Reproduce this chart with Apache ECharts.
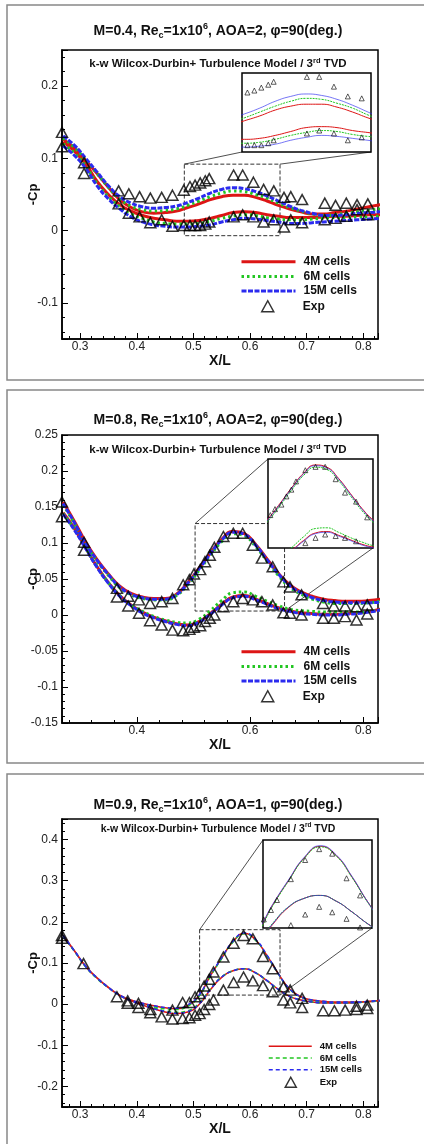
<!DOCTYPE html>
<html>
<head>
<meta charset="utf-8">
<script src="https://cdn.jsdelivr.net/npm/echarts@6/dist/echarts.min.js"></script>
<style>
html, body { margin: 0; padding: 0; background: #fff; }
#chart { width: 424px; height: 1144px; }
</style>
</head>
<body>
<div id="chart"></div>
<script>
var FONT = '"Liberation Sans", Arial, Helvetica, sans-serif';

// x stations shared by all CFD curves
var xs = [0.27, 0.29, 0.31, 0.33, 0.35, 0.37, 0.39, 0.41, 0.43, 0.45, 0.47, 0.49, 0.51, 0.53, 0.55,
          0.57, 0.59, 0.61, 0.63, 0.65, 0.67, 0.69, 0.71, 0.73, 0.75, 0.77, 0.79, 0.81, 0.83];

// M=0.4
var p1UpRed   = [0.126,0.114,0.097,0.079,0.060,0.043,0.032,0.026,0.024,0.025,0.027,0.032,0.037,0.043,0.047,0.049,0.049,0.046,0.041,0.035,0.030,0.026,0.023,0.023,0.025,0.027,0.030,0.033,0.036];
var p1UpGreen = [0.128,0.115,0.098,0.079,0.060,0.044,0.034,0.029,0.027,0.028,0.030,0.035,0.041,0.047,0.052,0.055,0.054,0.050,0.045,0.038,0.032,0.027,0.023,0.021,0.022,0.024,0.026,0.028,0.030];
var p1UpBlue  = [0.131,0.118,0.100,0.081,0.062,0.047,0.038,0.033,0.031,0.032,0.034,0.039,0.045,0.052,0.057,0.0595,0.058,0.054,0.048,0.041,0.034,0.028,0.024,0.021,0.021,0.022,0.024,0.025,0.026];
var p1LoRed   = [0.123,0.110,0.092,0.068,0.050,0.036,0.027,0.021,0.017,0.015,0.013,0.013,0.014,0.017,0.021,0.025,0.026,0.025,0.022,0.020,0.018,0.018,0.018,0.019,0.020,0.020,0.021,0.022,0.022];
var p1LoGreen = [0.120,0.107,0.089,0.065,0.047,0.033,0.023,0.017,0.012,0.010,0.009,0.009,0.010,0.013,0.017,0.020,0.022,0.021,0.018,0.016,0.015,0.015,0.016,0.017,0.018,0.018,0.019,0.019,0.020];
var p1LoBlue  = [0.117,0.104,0.086,0.062,0.044,0.030,0.019,0.012,0.008,0.006,0.005,0.005,0.006,0.008,0.012,0.015,0.017,0.016,0.014,0.012,0.010,0.010,0.011,0.012,0.013,0.014,0.015,0.016,0.017];
var p1ExpX  = [0.268,0.307,0.368,0.386,0.405,0.424,0.444,0.463,0.483,0.494,0.503,0.512,0.521,0.528,0.571,0.587,0.606,0.624,0.642,0.660,0.672,0.692,0.732,0.751,0.770,0.789,0.808];
var p1ExpUp = [0.136,0.094,0.055,0.051,0.047,0.045,0.046,0.049,0.056,0.061,0.063,0.066,0.069,0.072,0.077,0.077,0.067,0.057,0.055,0.046,0.047,0.043,0.038,0.035,0.038,0.036,0.037];
var p1ExpLo = [0.116,0.079,0.037,0.024,0.019,0.011,0.015,0.006,0.007,0.007,0.007,0.007,0.009,0.012,0.019,0.022,0.019,0.012,0.015,0.005,0.015,0.011,0.015,0.017,0.020,0.029,0.022];

// M=0.8
var p2UpRed   = [0.157,0.130,0.101,0.077,0.057,0.040,0.030,0.025,0.023,0.023,0.029,0.045,0.065,0.086,0.105,0.116,0.113,0.098,0.078,0.058,0.042,0.032,0.026,0.022,0.020,0.019,0.019,0.020,0.022];
var p2UpGreen = [0.153,0.127,0.098,0.075,0.055,0.038,0.028,0.023,0.021,0.021,0.027,0.042,0.062,0.083,0.102,0.113,0.110,0.095,0.075,0.055,0.039,0.029,0.022,0.018,0.016,0.016,0.016,0.017,0.019];
var p2UpBlue  = [0.155,0.128,0.099,0.076,0.056,0.039,0.029,0.024,0.022,0.022,0.028,0.044,0.064,0.085,0.104,0.115,0.112,0.097,0.077,0.057,0.041,0.031,0.024,0.020,0.018,0.017,0.017,0.017,0.018];
var p2LoRed   = [0.142,0.120,0.093,0.067,0.045,0.027,0.014,0.004,-0.003,-0.008,-0.012,-0.014,-0.009,0.002,0.015,0.025,0.027,0.022,0.016,0.010,0.006,0.003,0.002,0.001,0.001,0.002,0.003,0.005,0.008];
var p2LoGreen = [0.141,0.119,0.093,0.067,0.045,0.027,0.014,0.005,-0.002,-0.007,-0.010,-0.011,-0.006,0.006,0.020,0.031,0.032,0.026,0.019,0.013,0.008,0.006,0.005,0.004,0.004,0.004,0.004,0.005,0.007];
var p2LoBlue  = [0.140,0.118,0.092,0.066,0.044,0.026,0.013,0.003,-0.004,-0.009,-0.013,-0.015,-0.010,0.001,0.014,0.024,0.026,0.021,0.015,0.009,0.005,0.002,0.001,0.000,0.000,0.001,0.002,0.004,0.007];
var p2ExpX  = [0.268,0.307,0.365,0.385,0.404,0.4235,0.444,0.463,0.482,0.493,0.501,0.512,0.5205,0.529,0.537,0.553,0.5705,0.587,0.605,0.621,0.640,0.659,0.6706,0.691,0.729,0.748,0.768,0.788,0.807];
var p2ExpUp = [0.157,0.101,0.037,0.026,0.021,0.016,0.0185,0.023,0.042,0.049,0.057,0.063,0.074,0.083,0.094,0.109,0.1135,0.1135,0.097,0.079,0.067,0.046,0.039,0.028,0.016,0.0125,0.0125,0.0115,0.014];
var p2ExpLo = [0.1365,0.090,0.025,0.0125,0.0024,-0.008,-0.014,-0.021,-0.022,-0.020,-0.017,-0.015,-0.009,-0.0046,0.0,0.0115,0.0185,0.023,0.021,0.0185,0.014,0.003,0.0024,0.0,-0.0046,-0.0046,-0.0023,-0.007,0.0014];

// M=0.9
var p3UpRed   = [0.167,0.130,0.092,0.064,0.041,0.022,0.010,0.002,-0.004,-0.009,-0.011,-0.003,0.021,0.069,0.112,0.152,0.172,0.156,0.118,0.074,0.037,0.018,0.010,0.007,0.005,0.005,0.005,0.007,0.009];
var p3UpGreen = [0.166,0.129,0.091,0.063,0.040,0.021,0.009,0.000,-0.006,-0.011,-0.013,-0.005,0.019,0.067,0.111,0.151,0.171,0.155,0.117,0.073,0.036,0.017,0.009,0.006,0.004,0.004,0.004,0.006,0.008];
var p3UpBlue  = [0.167,0.130,0.092,0.064,0.041,0.022,0.010,0.002,-0.004,-0.008,-0.010,-0.002,0.022,0.070,0.113,0.153,0.173,0.157,0.119,0.074,0.037,0.018,0.010,0.007,0.005,0.005,0.005,0.007,0.009];
var p3LoRed   = [0.165,0.129,0.091,0.063,0.040,0.021,0.008,-0.002,-0.011,-0.019,-0.023,-0.019,-0.001,0.035,0.065,0.081,0.086,0.076,0.057,0.036,0.019,0.010,0.005,0.003,0.003,0.003,0.004,0.006,0.008];
var p3LoGreen = [0.165,0.128,0.090,0.062,0.040,0.021,0.009,-0.001,-0.009,-0.016,-0.020,-0.016,0.002,0.037,0.066,0.081,0.086,0.076,0.057,0.036,0.019,0.010,0.005,0.003,0.003,0.003,0.004,0.006,0.008];
var p3LoBlue  = [0.165,0.129,0.091,0.063,0.040,0.021,0.008,-0.002,-0.011,-0.018,-0.022,-0.018,0.000,0.036,0.066,0.081,0.086,0.076,0.057,0.036,0.019,0.010,0.005,0.003,0.003,0.003,0.004,0.006,0.008];
var p3ExpX  = [0.268,0.306,0.365,0.384,0.403,0.424,0.444,0.463,0.481,0.493,0.503,0.511,0.519,0.528,0.5355,0.553,0.571,0.5886,0.605,0.623,0.640,0.659,0.671,0.692,0.729,0.749,0.768,0.788,0.807];
var p3ExpUp = [0.167,0.0985,0.018,0.008,0.002,-0.013,null,-0.0145,0.004,0.004,0.018,0.026,0.044,0.0605,0.078,0.1145,0.148,0.167,0.159,0.116,0.086,0.042,0.034,0.014,-0.016,-0.016,-0.0145,-0.005,-0.0024];
var p3ExpLo = [0.160,null,null,0.002,-0.008,-0.021,-0.031,-0.036,-0.035,-0.033,-0.027,-0.023,-0.013,-0.001,0.010,0.034,0.0525,0.066,0.0565,0.045,0.030,0.010,0.003,-0.008,null,null,null,-0.013,-0.0105];

var seriesNames = ['4M cells', '6M cells', '15M cells'];
var titleMach = ['0.4', '0.8', '0.9'];
var titleAoa = ['2', '2', '1'];

// zoom windows: dashed box on main plot [x0, x1, y0, y1] and inset axis ranges
var boxes  = [[0.484, 0.653, -0.007, 0.092], [0.503, 0.661, 0.0055, 0.127], [0.511, 0.653, 0.022, 0.181]];
var insets = [[0.487, 0.654, 0.0, 0.081], [0.489, 0.669, 0.005, 0.124], [0.518, 0.655, 0.029, 0.183]];

var RED = '#dd1515', GREEN = '#22c622', BLUE = '#2b2bef';

var panels = [
    { up: [p1UpRed, p1UpGreen, p1UpBlue], lo: [p1LoRed, p1LoGreen, p1LoBlue], ex: p1ExpX, eu: p1ExpUp, el: p1ExpLo,
      grid: { left: 62, top: 50, width: 316, height: 289 }, inset: { left: 242, top: 73, width: 129, height: 79 },
      y: { min: -0.15, max: 0.25, splitNumber: 4, ends: false }, xSplit: 5, thin: false,
      titleY: 31, subY: 64, legend: [240, 254.5], exp: [267, 305.5], border: [7, 5, 430, 375] },
    { up: [p2UpRed, p2UpGreen, p2UpBlue], lo: [p2LoRed, p2LoGreen, p2LoBlue], ex: p2ExpX, eu: p2ExpUp, el: p2ExpLo,
      grid: { left: 62, top: 435, width: 316, height: 288 }, inset: { left: 268, top: 459, width: 105, height: 89 },
      y: { min: -0.15, max: 0.25, interval: 0.05, ends: true }, xSplit: 3, thin: false,
      titleY: 420, subY: 450, legend: [240, 644.5], exp: [267, 695.5], border: [7, 390, 430, 373] },
    { up: [p3UpRed, p3UpGreen, p3UpBlue], lo: [p3LoRed, p3LoGreen, p3LoBlue], ex: p3ExpX, eu: p3ExpUp, el: p3ExpLo,
      grid: { left: 62, top: 819, width: 316, height: 288 }, inset: { left: 263, top: 840, width: 109, height: 88 },
      y: { min: -0.25, max: 0.45, splitNumber: 7, ends: false }, xSplit: 5, thin: true,
      titleY: 805, subY: 829, legend: [268, 1040.5], exp: [290, 1081.5], border: [7, 774, 430, 380] }
];

function pairs(xv, yv) {
    var out = [];
    for (var i = 0; i < xv.length; i++) {
        if (yv[i] !== null) out.push([xv[i], yv[i]]);
    }
    return out;
}
function curve(up, lo) {
    return pairs(xs, up).concat([['-', '-']], pairs(xs, lo));
}

function lineStyles(thin) {
    if (thin) {
        return [
            { color: RED, width: 1.5, type: 'solid' },
            { color: GREEN, width: 1.5, type: [4, 3] },
            { color: BLUE, width: 1.5, type: [4, 3] }
        ];
    }
    return [
        { color: RED, width: 3, type: 'solid' },
        { color: GREEN, width: 3, type: [2.5, 3] },
        { color: BLUE, width: 3, type: [5, 1.5] }
    ];
}
var insetStyles = [
    { color: RED, width: 1, type: 'solid' },
    { color: GREEN, width: 1, type: [2, 1] },
    { color: BLUE, width: 1, type: 'solid', opacity: 0.65 }
];
var noSymbol = { color: 'rgba(0,0,0,0)', borderWidth: 0, opacity: 0 };
var openTri = { color: 'rgba(0,0,0,0)', borderColor: '#000', borderWidth: 1.5 };

var grids = [], xAxes = [], yAxes = [], series = [], legends = [], elements = [];

panels.forEach(function (p, i) {
    var mi = i * 2, ii = i * 2 + 1;
    var labelFont = { color: '#222', fontSize: 12, fontFamily: FONT };

    grids.push({ left: p.grid.left, top: p.grid.top, width: p.grid.width, height: p.grid.height,
        show: true, borderColor: '#000', borderWidth: 1.5, backgroundColor: 'rgba(0,0,0,0)' });
    grids.push({ left: p.inset.left, top: p.inset.top, width: p.inset.width, height: p.inset.height,
        show: true, borderColor: '#000', borderWidth: 1.5, backgroundColor: '#fff', z: 3 });

    xAxes.push({
        type: 'value', gridIndex: mi, min: 0.268, max: 0.826, splitNumber: p.xSplit,
        axisLine: { onZero: false, lineStyle: { color: '#000', width: 1.5 } },
        axisTick: { inside: true, length: 6, lineStyle: { color: '#000', width: 1 } },
        minorTick: { show: true, splitNumber: 5, length: 3, lineStyle: { color: '#000', width: 1 } },
        splitLine: { show: false },
        axisLabel: Object.assign({ showMinLabel: false, showMaxLabel: false, margin: 2 }, labelFont),
        name: 'X/L', nameLocation: 'middle', nameGap: 13,
        nameTextStyle: { fontWeight: 'bold', fontSize: 14, color: '#111', fontFamily: FONT, verticalAlign: 'top' }
    });
    var ya = {
        type: 'value', gridIndex: mi, min: p.y.min, max: p.y.max,
        axisLine: { onZero: false, lineStyle: { color: '#000', width: 1.5 } },
        axisTick: { inside: true, length: 6, lineStyle: { color: '#000', width: 1 } },
        minorTick: { show: true, splitNumber: 5, length: 3, lineStyle: { color: '#000', width: 1 } },
        splitLine: { show: false },
        axisLabel: Object.assign({ showMinLabel: p.y.ends, showMaxLabel: p.y.ends, margin: 4 }, labelFont),
        name: '-Cp', nameLocation: 'middle', nameGap: 22, nameMoveOverlap: false,
        nameTextStyle: { fontWeight: 'bold', fontSize: 13, color: '#111', fontFamily: FONT }
    };
    if (p.y.interval) ya.interval = p.y.interval; else ya.splitNumber = p.y.splitNumber;
    yAxes.push(ya);

    var r = insets[i];
    var hidden = { axisLine: { show: false }, axisTick: { show: false }, axisLabel: { show: false }, splitLine: { show: false } };
    xAxes.push(Object.assign({ type: 'value', gridIndex: ii, min: r[0], max: r[1] }, hidden));
    yAxes.push(Object.assign({ type: 'value', gridIndex: ii, min: r[2], max: r[3] }, hidden));

    var styles = lineStyles(p.thin);
    var b = boxes[i];
    for (var k = 0; k < 3; k++) {
        var s = {
            type: 'line', name: seriesNames[k], xAxisIndex: mi, yAxisIndex: mi,
            data: curve(p.up[k], p.lo[k]), symbol: 'none', smooth: true,
            lineStyle: styles[k], itemStyle: { color: styles[k].color }, z: 2, silent: true
        };
        if (k === 0) {
            s.markArea = {
                silent: true, label: { show: false },
                itemStyle: { color: 'rgba(0,0,0,0)', borderColor: '#333', borderWidth: 1, borderType: 'dashed' },
                data: [[{ coord: [b[0], b[3]] }, { coord: [b[1], b[2]] }]]
            };
        }
        series.push(s);
        series.push({
            type: 'line', name: seriesNames[k], xAxisIndex: ii, yAxisIndex: ii,
            data: curve(p.up[k], p.lo[k]), symbol: 'none', smooth: true,
            lineStyle: insetStyles[k], itemStyle: { color: styles[k].color }, z: 5, silent: true
        });
    }
    var expData = pairs(p.ex, p.eu).concat(pairs(p.ex, p.el));
    series.push({
        type: 'scatter', name: 'Exp', xAxisIndex: mi, yAxisIndex: mi, data: expData,
        symbol: 'triangle', symbolSize: [11, 10], itemStyle: openTri, z: 3, silent: true
    });
    series.push({
        type: 'scatter', name: 'Exp', xAxisIndex: ii, yAxisIndex: ii, data: expData,
        symbol: 'triangle', symbolSize: [5, 5],
        itemStyle: { color: 'rgba(0,0,0,0)', borderColor: '#000', borderWidth: 0.8 }, z: 6, silent: true
    });

    var lw = p.thin ? 43 : 54, lh = p.thin ? 11.7 : 14.6, fs = p.thin ? 9.5 : 12;
    var textStyle = { fontWeight: 'bold', fontSize: fs, color: '#111', fontFamily: FONT };
    legends.push({
        orient: 'vertical', left: p.legend[0], top: p.legend[1], padding: 0, selectedMode: false,
        itemWidth: lw, itemHeight: lh, itemGap: 0, itemStyle: noSymbol,
        textStyle: Object.assign({ padding: [0, 0, 0, 3], lineHeight: lh }, textStyle),
        data: [
            { name: '4M cells', lineStyle: { color: RED, width: styles[0].width, type: 'solid' }, itemStyle: noSymbol },
            { name: '6M cells', lineStyle: { color: GREEN, width: styles[1].width, type: styles[1].type }, itemStyle: noSymbol },
            { name: '15M cells', lineStyle: { color: BLUE, width: styles[2].width, type: styles[2].type }, itemStyle: noSymbol }
        ]
    });
    // Exp entry on its own so the triangle keeps its shape
    var tw = p.thin ? 11 : 12, th = p.thin ? 10 : 11;
    var textX = p.legend[0] + lw + 8;
    var expLeft = p.exp[0] - tw / 2;
    legends.push({
        orient: 'vertical', left: expLeft, top: p.exp[1] - th / 2, padding: 0, selectedMode: false,
        itemWidth: tw, itemHeight: th, itemGap: 0,
        textStyle: Object.assign({ padding: [0, 0, 0, textX - (expLeft + tw + 5)] }, textStyle),
        data: [{ name: 'Exp', icon: 'triangle', itemStyle: openTri }]
    });

    var bd = p.border;
    elements.push({ type: 'rect', z: -10, shape: { x: bd[0], y: bd[1], width: bd[2], height: bd[3] },
        style: { fill: 'none', stroke: '#888', lineWidth: 1.5 }, silent: true });

    var big = 14, small = 9;
    elements.push({
        type: 'text', x: 218, y: p.titleY, silent: true,
        style: {
            text: '{b|M=' + titleMach[i] + ', Re}{s|c}{b|=1x10}{p|6}{b|, AOA=' + titleAoa[i] + ', \u03c6=90(deg.)}',
            align: 'center', verticalAlign: 'middle', textAlign: 'center', textVerticalAlign: 'middle',
            rich: {
                b: { font: 'bold ' + big + 'px ' + FONT, fill: '#111', lineHeight: 18 },
                s: { font: 'bold ' + small + 'px ' + FONT, fill: '#111', lineHeight: 9, verticalAlign: 'bottom' },
                p: { font: 'bold ' + small + 'px ' + FONT, fill: '#111', lineHeight: 9, verticalAlign: 'top' }
            }
        }
    });
    var sf = p.thin ? 10.5 : 11.5;
    elements.push({
        type: 'text', x: 218, y: p.subY, silent: true,
        style: {
            text: '{b|k-w Wilcox-Durbin+ Turbulence Model / 3}{p|rd}{b| TVD}',
            align: 'center', verticalAlign: 'middle', textAlign: 'center', textVerticalAlign: 'middle',
            rich: {
                b: { font: 'bold ' + sf + 'px ' + FONT, fill: '#111', lineHeight: 14 },
                p: { font: 'bold ' + (sf - 4) + 'px ' + FONT, fill: '#111', lineHeight: 7, verticalAlign: 'top' }
            }
        }
    });
});

var chart = echarts.init(document.getElementById('chart'), null, { renderer: 'canvas' });
chart.setOption({
    animation: false,
    backgroundColor: '#fff',
    grid: grids,
    xAxis: xAxes,
    yAxis: yAxes,
    legend: legends,
    series: series,
    graphic: { elements: elements }
});

// connector lines from each dashed box to its inset
function px(ai, x, y) {
    return chart.convertToPixel({ xAxisIndex: ai, yAxisIndex: ai }, [x, y]);
}
var links = [
    [[0, boxes[0][0], boxes[0][3]], [1, insets[0][0], insets[0][2]]],
    [[0, boxes[0][1], boxes[0][3]], [1, insets[0][1], insets[0][2]]],
    [[2, boxes[1][0], boxes[1][3]], [3, insets[1][0], insets[1][3]]],
    [[2, boxes[1][1], boxes[1][2]], [3, insets[1][1], insets[1][2]]],
    [[4, boxes[2][0], boxes[2][3]], [5, insets[2][0], insets[2][3]]],
    [[4, boxes[2][1], boxes[2][2]], [5, insets[2][1], insets[2][2]]]
];
links.forEach(function (l) {
    var a = px(l[0][0], l[0][1], l[0][2]);
    var c = px(l[1][0], l[1][1], l[1][2]);
    elements.push({ type: 'line', z: 1, silent: true,
        shape: { x1: a[0], y1: a[1], x2: c[0], y2: c[1] },
        style: { stroke: '#222', lineWidth: 0.8 } });
});
chart.setOption({ graphic: { elements: elements } });
</script>
</body>
</html>
